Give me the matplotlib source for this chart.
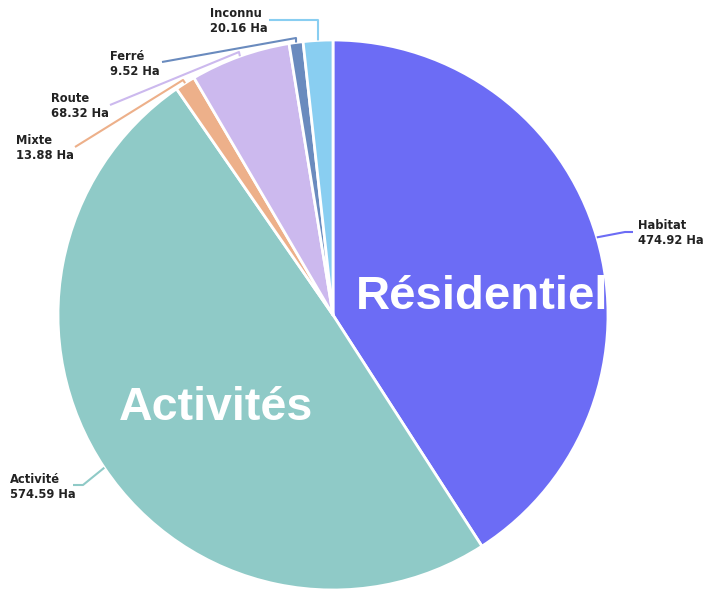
import matplotlib
matplotlib.use("Agg")
import matplotlib.pyplot as plt
import numpy as np

categories = ["Habitat", "Activité", "Mixte", "Route", "Ferré", "Inconnu"]
values = [474.92, 574.59, 13.88, 68.32, 9.52, 20.16]
colors = ["#6C6CF5", "#8FCAC7", "#EDB08A", "#CCB9EE", "#6A8BBE", "#89CEF1"]
big_labels = ["Résidentiel", "Activités"]

W, H = 710, 592
fig = plt.figure(figsize=(W / 100, H / 100), dpi=100)
ax = fig.add_axes([0, 0, 1, 1])
ax.set_xlim(0, W)
ax.set_ylim(0, H)
ax.axis("off")

def P(x, y):
    return (x, H - y)

cx, cy = P(333, 315)
R = 275

wedges, _ = ax.pie(values, colors=colors, startangle=90, counterclock=False,
                   center=(cx, cy), radius=R,
                   wedgeprops=dict(edgecolor="white", linewidth=2, joinstyle="round"))
ax.set_xlim(0, W)
ax.set_ylim(0, H)
ax.set_aspect("equal")

# label placement: (text x, text center y, elbow, end) in pixel coords
label_layout = {
    "Habitat":  dict(tx=638, ty=233, ha="left",  elbow=(625, 232), end=(633, 232)),
    "Activité": dict(tx=10,  ty=487, ha="left",  elbow=(83, 485),  end=(73, 485)),
    "Mixte":    dict(tx=16,  ty=148, ha="left",  elbow=(183, 80),  end=(75, 147)),
    "Route":    dict(tx=51,  ty=106, ha="left",  elbow=(239, 52),  end=(110, 105)),
    "Ferré":    dict(tx=110, ty=64,  ha="left",  elbow=(296, 38),  end=(162, 62)),
    "Inconnu":  dict(tx=210, ty=21,  ha="left",  elbow=(318, 20),  end=(269, 20)),
}

for w, name, val, col in zip(wedges, categories, values, colors):
    mid = np.deg2rad((w.theta1 + w.theta2) / 2)
    sx = cx + R * np.cos(mid)
    sy = cy + R * np.sin(mid)
    L = label_layout[name]
    ex, ey = P(*L["elbow"])
    nx, ny = P(*L["end"])
    ax.plot([sx, ex, nx], [sy, ey, ny], color=col, lw=1.5, solid_capstyle="butt")
    tx, ty = P(L["tx"], L["ty"])
    ax.text(tx, ty, f"{name}\n{val:.2f} Ha", ha=L["ha"], va="center",
            fontsize=8.3, fontweight="bold", color="#222222",
            family="DejaVu Sans", linespacing=1.2)

# big inner labels
bx, by = P(482, 297)
ax.text(bx, by, big_labels[0], ha="center", va="center", color="white",
        fontsize=34, fontweight="bold", family="Liberation Sans")
ax2x, ax2y = P(216, 408)
ax.text(ax2x, ax2y, big_labels[1], ha="center", va="center", color="white",
        fontsize=33.5, fontweight="bold", family="Liberation Sans")

fig.savefig("out.png", dpi=100)
